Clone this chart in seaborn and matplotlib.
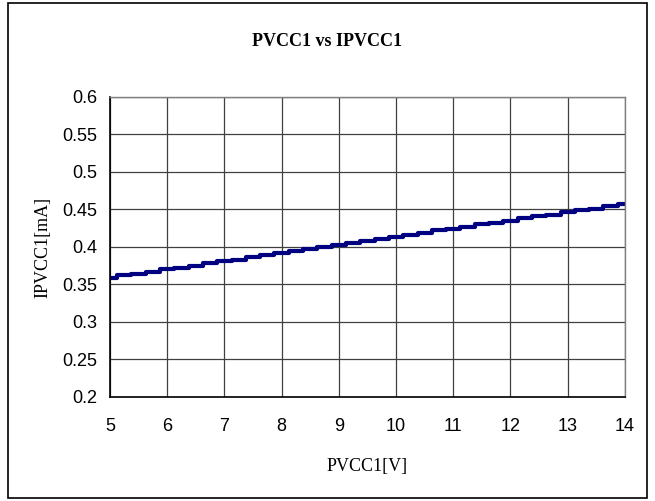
import numpy as np
import pandas as pd
import seaborn as sns
import matplotlib.pyplot as plt
from matplotlib.patches import Rectangle

# PVCC1 [V] vs IPVCC1 [mA]
pvcc1 = [5.00, 5.25, 5.50, 5.75, 6.00, 6.25, 6.50, 6.75, 7.00, 7.25, 7.50, 7.75,
         8.00, 8.25, 8.50, 8.75, 9.00, 9.25, 9.50, 9.75, 10.00, 10.25, 10.50,
         10.75, 11.00, 11.25, 11.50, 11.75, 12.00, 12.25, 12.50, 12.75, 13.00,
         13.25, 13.50, 13.75, 14.00]
ipvcc1 = [0.359, 0.362, 0.364, 0.367, 0.370, 0.372, 0.375, 0.378, 0.381, 0.383,
          0.386, 0.389, 0.392, 0.394, 0.397, 0.400, 0.403, 0.405, 0.408, 0.411,
          0.413, 0.416, 0.419, 0.422, 0.424, 0.427, 0.430, 0.432, 0.435, 0.438,
          0.441, 0.443, 0.446, 0.449, 0.451, 0.454, 0.457]
x_ticks = [5, 6, 7, 8, 9, 10, 11, 12, 13, 14]
y_ticks = [0.2, 0.25, 0.3, 0.35, 0.4, 0.45, 0.5, 0.55, 0.6]
y_labels = ["0.2", "0.25", "0.3", "0.35", "0.4", "0.45", "0.5", "0.55", "0.6"]

df = pd.DataFrame({"PVCC1": pvcc1, "IPVCC1": ipvcc1})

sns.set_style("white")
plt.rcParams["font.family"] = ["Liberation Sans", "DejaVu Sans"]
plt.rcParams["text.color"] = "black"
plt.rcParams["axes.labelcolor"] = "black"

fig = plt.figure(figsize=(6.55, 5.01), dpi=100)
ax = fig.add_axes([0.168, 0.2076, 0.786, 0.5988])

sns.lineplot(data=df, x="PVCC1", y="IPVCC1", ax=ax, color="#000080",
             linewidth=3, drawstyle="steps-mid")

ax.set_xlim(5, 14)
ax.set_ylim(0.2, 0.6)
ax.set_xticks(x_ticks)
ax.set_yticks(y_ticks)
ax.set_yticklabels(y_labels)
ax.tick_params(axis="both", labelsize=13, colors="black")
ax.tick_params(axis="y", length=4, width=1, direction="out", pad=5)
ax.tick_params(axis="x", length=0, pad=15)
ax.grid(True, color="#404040", linewidth=0.9)

for side in ["top", "right"]:
    ax.spines[side].set_color("#808080")
    ax.spines[side].set_linewidth(1)
for side in ["left", "bottom"]:
    ax.spines[side].set_color("black")
    ax.spines[side].set_linewidth(1.2)

serif = ["Liberation Serif", "DejaVu Serif"]
ax.set_xlabel("PVCC1[V]", fontsize=13, family=serif, labelpad=17)
ax.set_ylabel("IPVCC1[mA]", fontsize=13, family=serif, labelpad=8)
fig.text(0.5, 0.918, "PVCC1 vs IPVCC1", ha="center", va="center",
         fontsize=13, fontweight="bold", family=serif)

fig.patches.append(Rectangle((0.012, 0.006), 0.976, 0.988, transform=fig.transFigure,
                             fill=False, edgecolor="black", linewidth=1.2))

fig.savefig("out.png", dpi=100)
